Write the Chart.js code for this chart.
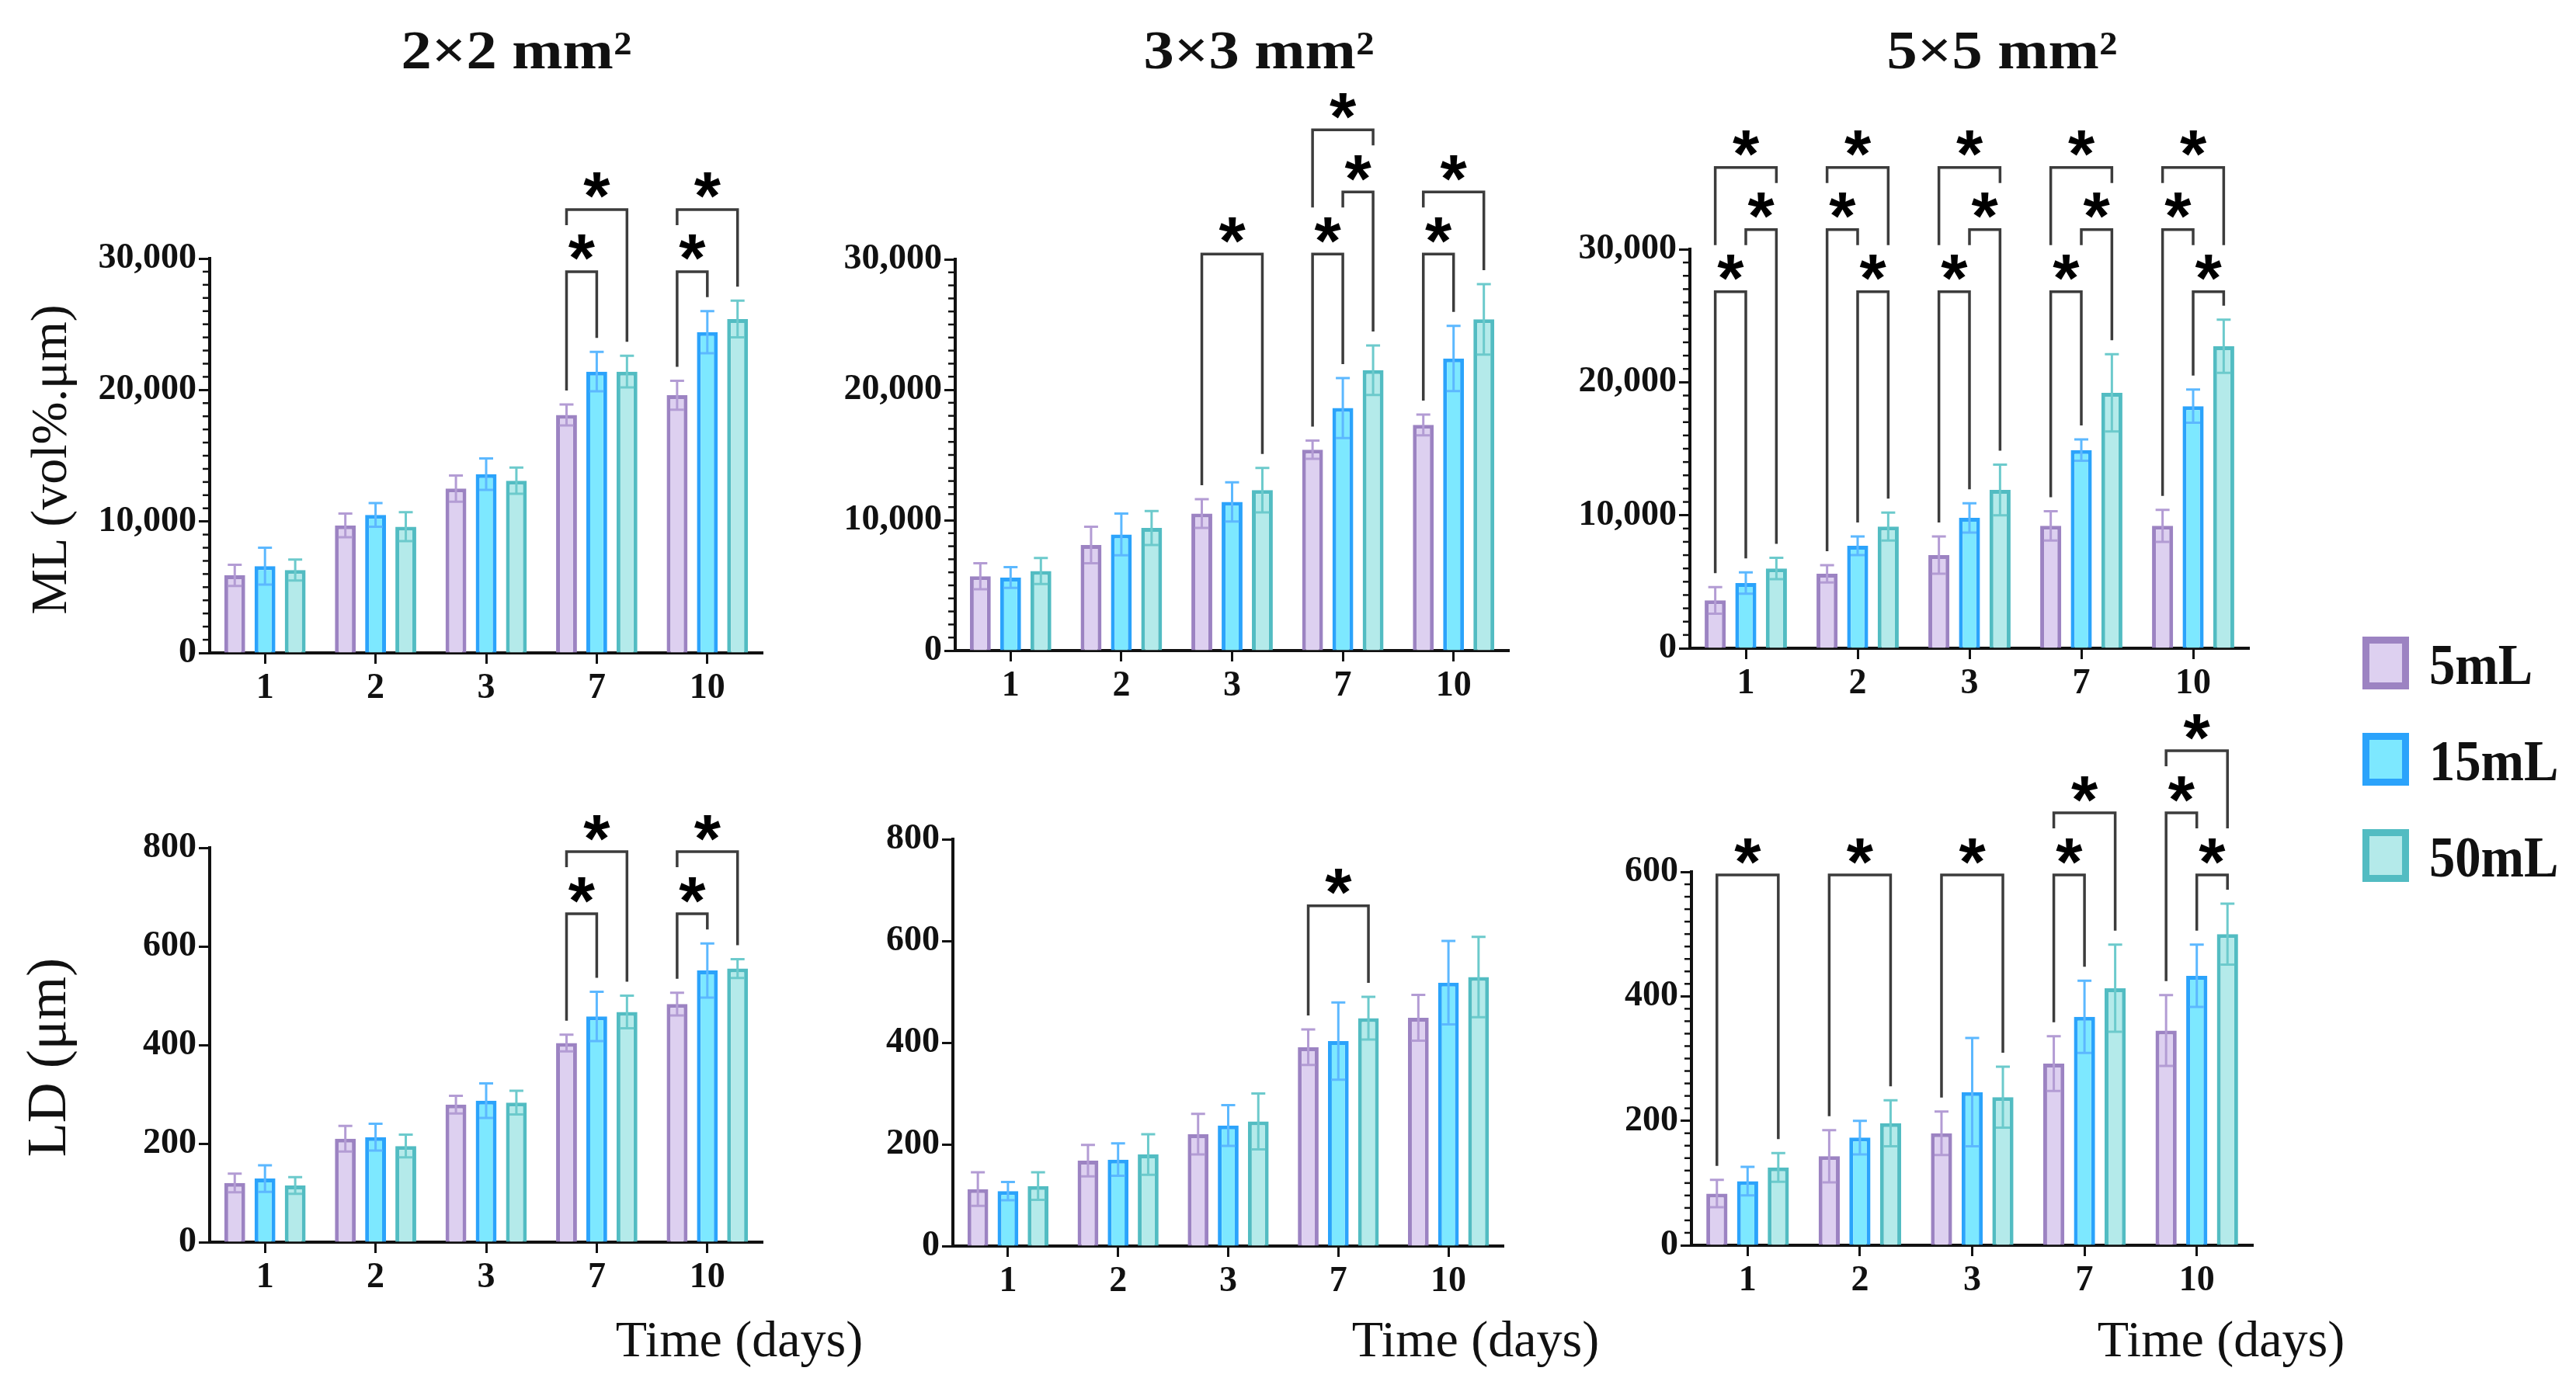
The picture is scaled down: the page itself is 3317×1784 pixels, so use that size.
<!DOCTYPE html>
<html>
<head>
<meta charset="utf-8">
<script src="https://cdn.jsdelivr.net/npm/chart.js@4.4.1/dist/chart.umd.min.js"></script>
<style>
  body { margin: 0; background: #fff; width: 3317px; height: 1784px; position: relative; overflow: hidden;
         font-family: 'Liberation Serif', 'Times New Roman', serif; color: #111; }
  .box { position: absolute; }
  .txt { position: absolute; white-space: nowrap; line-height: 1; }
  .title { font-weight: bold; font-size: 70px; transform: translate(-50%, 0) scaleX(1.12); }
  .ytitle { font-size: 66px; transform: translate(-50%, -50%) rotate(-90deg); }
  .xtitle { font-size: 66px; transform: translate(-50%, -50%); }
  .sw { position: absolute; width: 42px; height: 50px; border: 9px solid; }
  .leg { font-weight: bold; font-size: 74px; transform: translate(0, -50%) scaleX(0.9); transform-origin: left center; }
</style>
</head>
<body>

<div class="txt title" style="left:665px;top:30px">2×2 mm²</div>
<div class="txt title" style="left:1621px;top:30px">3×3 mm²</div>
<div class="txt title" style="left:2578px;top:30px">5×5 mm²</div>

<div class="txt ytitle" style="left:63px;top:592px">ML (vol%.μm)</div>
<div class="txt ytitle" style="left:60px;top:1362px;font-size:72px">LD (μm)</div>

<div class="txt xtitle" style="left:952px;top:1725px">Time (days)</div>
<div class="txt xtitle" style="left:1900px;top:1725px">Time (days)</div>
<div class="txt xtitle" style="left:2860px;top:1725px">Time (days)</div>

<div id="legend"></div>

<div class="box" id="b_ml2"><canvas id="c_ml2"></canvas></div>
<div class="box" id="b_ml3"><canvas id="c_ml3"></canvas></div>
<div class="box" id="b_ml5"><canvas id="c_ml5"></canvas></div>
<div class="box" id="b_ld2"><canvas id="c_ld2"></canvas></div>
<div class="box" id="b_ld3"><canvas id="c_ld3"></canvas></div>
<div class="box" id="b_ld5"><canvas id="c_ld5"></canvas></div>

<script>
// ---- data ----
const days = ['1', '2', '3', '7', '10'];
const groups = ['5mL', '15mL', '50mL'];

// ML (vol%.um), rows = 5mL, 15mL, 50mL
const ml2Means = [[5900, 9700, 12500, 18100, 19600], [6600, 10500, 13600, 21400, 24400], [6300, 9600, 13100, 21400, 25400]];
const ml2Errs  = [[800, 900, 1000, 800, 1100], [1400, 900, 1200, 1500, 1600], [800, 1100, 1000, 1200, 1400]];
const ml3Means = [[5700, 8100, 10500, 15400, 17300], [5600, 8900, 11400, 18600, 22400], [6100, 9400, 12300, 21500, 25400]];
const ml3Errs  = [[1000, 1400, 1100, 700, 800], [800, 1600, 1500, 2300, 2500], [1000, 1300, 1700, 1900, 2700]];
const ml5Means = [[3600, 5600, 7000, 9200, 9200], [4900, 7700, 9800, 14900, 18200], [6000, 9150, 11900, 19200, 22700]];
const ml5Errs  = [[1000, 650, 1400, 1100, 1200], [800, 700, 1100, 800, 1250], [800, 1050, 1900, 2900, 2000]];

// LD (um)
const ld2Means = [[120, 210, 279, 404, 483], [129, 213, 287, 458, 551], [115, 195, 283, 467, 555]];
const ld2Errs  = [[19, 26, 18, 17, 23], [27, 27, 35, 50, 55], [17, 23, 24, 33, 19]];
const ld3Means = [[112, 168, 220, 391, 449], [108, 170, 237, 403, 518], [118, 180, 245, 448, 529]];
const ld3Errs  = [[33, 31, 40, 35, 45], [18, 32, 40, 76, 82], [27, 40, 55, 42, 79]];
const ld5Means = [[83, 143, 180, 292, 345], [103, 173, 246, 367, 433], [125, 196, 238, 413, 500]];
const ld5Errs  = [[22, 42, 35, 44, 57], [23, 27, 87, 58, 50], [23, 37, 49, 70, 49]];

// significance: [day index, group a, group b, stack level]
const ml2Sig = [[3, 0, 1, 0], [3, 0, 2, 1], [4, 0, 1, 0], [4, 0, 2, 1]];
const ml3Sig = [[2, 0, 2, 0], [3, 0, 1, 0], [3, 1, 2, 1], [3, 0, 2, 2], [4, 0, 1, 0], [4, 0, 2, 1]];
const ml5Sig = [[0, 0, 1, 0], [0, 1, 2, 1], [0, 0, 2, 2], [1, 1, 2, 0], [1, 0, 1, 1], [1, 0, 2, 2],
                [2, 0, 1, 0], [2, 1, 2, 1], [2, 0, 2, 2], [3, 0, 1, 0], [3, 1, 2, 1], [3, 0, 2, 2],
                [4, 1, 2, 0], [4, 0, 1, 1], [4, 0, 2, 2]];
const ld2Sig = [[3, 0, 1, 0], [3, 0, 2, 1], [4, 0, 1, 0], [4, 0, 2, 1]];
const ld3Sig = [[3, 0, 2, 0]];
const ld5Sig = [[0, 0, 2, 0], [1, 0, 2, 0], [2, 0, 2, 0], [3, 0, 1, 0], [3, 0, 2, 1],
                [4, 1, 2, 0], [4, 0, 1, 1], [4, 0, 2, 2]];

// ---- style ----
const fills = ['#ddd0f0', '#7de8ff', '#b4eaea'];
const borders = ['#9c83c2', '#2ba3fb', '#52bcc2'];
const errColors = ['#b39cd4', '#5cb8ff', '#6ccacc'];
const Y_W = 200, X_H = 80, LEVEL_GAP = 80, LEG_GAP = 18;
const tickFont = { family: "'Liberation Serif', 'Times New Roman', serif", weight: 'bold', size: 46 };

// legend
const legend = document.getElementById('legend');
groups.forEach((g, i) => {
  const top = 820 + i * 124;
  const sw = document.createElement('div');
  sw.className = 'sw';
  sw.style.cssText = `left:3042px;top:${top}px;background:${fills[i]};border-color:${borders[i]}`;
  legend.appendChild(sw);
  const t = document.createElement('div');
  t.className = 'txt leg';
  t.style.cssText = `left:3128px;top:${top + 36}px`;
  t.textContent = g;
  legend.appendChild(t);
});

// minor ticks, error bars, significance brackets
const markPlugin = {
  id: 'marks',
  afterDraw(chart, args, opts) {
    const ctx = chart.ctx, y = chart.scales.y, area = chart.chartArea;
    ctx.save();
    if (opts.minor) {
      ctx.strokeStyle = '#111';
      ctx.lineWidth = 2.5;
      for (let v = opts.minor; v < y.max; v += opts.minor) {
        if (v % opts.major === 0) continue;
        const py = y.getPixelForValue(v);
        ctx.beginPath();
        ctx.moveTo(area.left - 9, py);
        ctx.lineTo(area.left, py);
        ctx.stroke();
      }
    }
    const topOf = (ds, j) => {
      const d = chart.data.datasets[ds];
      return y.getPixelForValue(d.data[j] + d.err[j]);
    };
    chart.data.datasets.forEach((d, i) => {
      ctx.strokeStyle = errColors[i];
      ctx.lineWidth = 3;
      chart.getDatasetMeta(i).data.forEach((bar, j) => {
        const yt = y.getPixelForValue(d.data[j] + d.err[j]);
        const yb = y.getPixelForValue(d.data[j] - d.err[j]);
        ctx.beginPath();
        ctx.moveTo(bar.x, yt); ctx.lineTo(bar.x, yb);
        ctx.moveTo(bar.x - 9, yt); ctx.lineTo(bar.x + 9, yt);
        ctx.moveTo(bar.x - 9, yb); ctx.lineTo(bar.x + 9, yb);
        ctx.stroke();
      });
    });
    const sig = opts.sig || [];
    const basePx = y.getPixelForValue(opts.base);
    const levelPx = l => basePx - l * LEVEL_GAP;
    const legEnd = (g, bar, lvl) => {
      let best = -1;
      sig.forEach(s => {
        if (s[0] === g && s[3] < lvl && s[1] <= bar && bar <= s[2]) best = Math.max(best, s[3]);
      });
      return best >= 0 ? levelPx(best) - 0.75 * LEVEL_GAP : topOf(bar, g) - LEG_GAP;
    };
    ctx.strokeStyle = '#3c3c3c';
    ctx.lineWidth = 3.5;
    ctx.lineJoin = 'miter';
    ctx.fillStyle = '#000';
    ctx.font = "bold 88px 'Liberation Sans', Arial, sans-serif";
    const m = ctx.measureText('*');
    ctx.textAlign = 'center';
    sig.forEach(([g, a, b, lvl]) => {
      const xa = chart.getDatasetMeta(a).data[g].x;
      const xb = chart.getDatasetMeta(b).data[g].x;
      const yl = levelPx(lvl);
      ctx.beginPath();
      ctx.moveTo(xa, legEnd(g, a, lvl));
      ctx.lineTo(xa, yl);
      ctx.lineTo(xb, yl);
      ctx.lineTo(xb, legEnd(g, b, lvl));
      ctx.stroke();
      const cy = yl - 31;
      ctx.fillText('*', (xa + xb) / 2, cy + (m.actualBoundingBoxAscent - m.actualBoundingBoxDescent) / 2);
    });
    ctx.restore();
  }
};

function makePanel(key, means, errs, sig, p) {
  const box = document.getElementById('b_' + key);
  const padTop = p.top - p.rowTop;
  box.style.left = (p.axisX - Y_W) + 'px';
  box.style.top = p.rowTop + 'px';
  box.style.width = (p.right - p.axisX + Y_W + 40) + 'px';
  box.style.height = (padTop + p.bottom - p.top + X_H + 10) + 'px';
  new Chart(document.getElementById('c_' + key), {
    type: 'bar',
    data: {
      labels: days,
      datasets: groups.map((g, i) => ({
        label: g, data: means[i], err: errs[i],
        backgroundColor: fills[i], borderColor: borders[i], borderWidth: 5,
        barPercentage: 0.69, categoryPercentage: 0.82
      }))
    },
    options: {
      responsive: true, maintainAspectRatio: false, animation: false,
      layout: { padding: { top: padTop, right: 40, bottom: 10, left: 0 } },
      plugins: {
        legend: { display: false }, tooltip: { enabled: false },
        marks: { minor: p.minor, major: p.major, sig: sig, base: p.base }
      },
      scales: {
        x: {
          border: { color: '#111', width: 4 },
          grid: { drawOnChartArea: false, offset: false, tickLength: 14, tickWidth: 3, tickColor: '#111' },
          ticks: { color: '#111', font: tickFont, padding: 5, maxRotation: 0 },
          afterFit: s => { s.height = X_H; }
        },
        y: {
          min: 0, max: p.max,
          border: { color: '#111', width: 4 },
          grid: { drawOnChartArea: false, tickLength: 14, tickWidth: 3, tickColor: '#111' },
          ticks: { stepSize: p.major, color: '#111', font: tickFont, padding: 3,
                   callback: v => v.toLocaleString('en-US') },
          afterFit: s => { s.width = Y_W; }
        }
      }
    },
    plugins: [markPlugin]
  });
}

makePanel('ml2', ml2Means, ml2Errs, ml2Sig, { axisX: 270, top: 333, bottom: 841, right: 982, rowTop: 100, max: 30000, major: 10000, minor: 1000, base: 29000 });
makePanel('ml3', ml3Means, ml3Errs, ml3Sig, { axisX: 1230, top: 334, bottom: 838, right: 1943, rowTop: 100, max: 30000, major: 10000, minor: 1000, base: 30400 });
makePanel('ml5', ml5Means, ml5Errs, ml5Sig, { axisX: 2176, top: 321, bottom: 835, right: 2896, rowTop: 100, max: 30000, major: 10000, minor: 1000, base: 26800 });
makePanel('ld2', ld2Means, ld2Errs, ld2Sig, { axisX: 270, top: 1092, bottom: 1600, right: 982, rowTop: 900, max: 800, major: 200, minor: 0, base: 666 });
makePanel('ld3', ld3Means, ld3Errs, ld3Sig, { axisX: 1227, top: 1081, bottom: 1605, right: 1936, rowTop: 900, max: 800, major: 200, minor: 0, base: 669 });
makePanel('ld5', ld5Means, ld5Errs, ld5Sig, { axisX: 2178, top: 1123, bottom: 1604, right: 2901, rowTop: 900, max: 600, major: 200, minor: 20, base: 595 });
</script>
</body>
</html>
